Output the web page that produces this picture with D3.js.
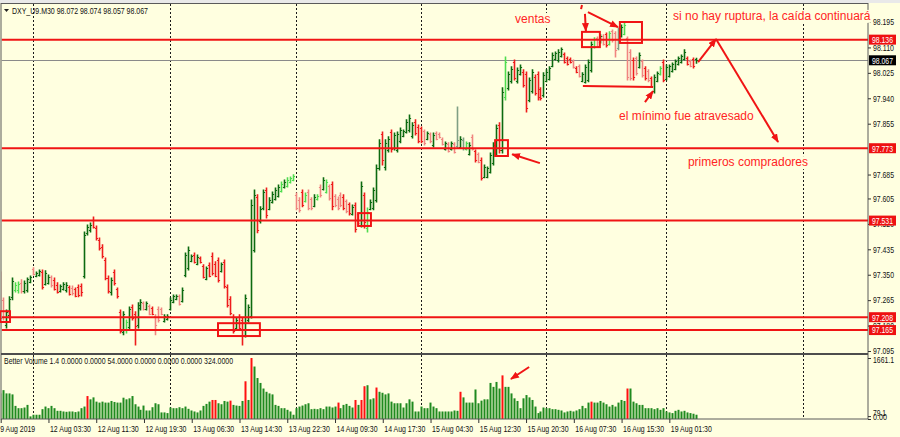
<!DOCTYPE html>
<html><head><meta charset="utf-8">
<script src="https://cdn.jsdelivr.net/npm/d3@7"></script>
<style>body{margin:0;background:#ffffe0;}svg{display:block}</style>
</head><body><svg id="c" width="900" height="437"></svg>
<script>
// ---------------- DATA ----------------
const symbolTitle = "DXY_U9.M30  98.072 98.074 98.057 98.067";
const volumeTitle = "Better Volume 1.4 0.0000 0.0000 54.0000 0.0000 0.0000 0.0000 324.0000";
// [open, high, low, close] per M30 bar
const bars = [
[97.326,97.359,97.172,97.205],[97.266,97.272,97.199,97.209],[97.182,97.232,97.172,97.226],[97.216,97.276,97.205,97.269],[97.276,97.339,97.266,97.329],
[97.299,97.323,97.292,97.316],[97.299,97.326,97.289,97.319],[97.323,97.333,97.289,97.296],[97.296,97.329,97.289,97.323],[97.299,97.339,97.292,97.336],
[97.326,97.346,97.323,97.343],[97.369,97.373,97.349,97.353],[97.346,97.359,97.343,97.356],[97.349,97.366,97.346,97.363],[97.359,97.366,97.302,97.309],
[97.319,97.363,97.316,97.356],[97.323,97.349,97.319,97.343],[97.343,97.346,97.309,97.316],[97.333,97.339,97.299,97.302],[97.316,97.323,97.289,97.292],
[97.296,97.316,97.292,97.312],[97.302,97.323,97.299,97.319],[97.299,97.323,97.292,97.316],[97.309,97.312,97.282,97.286],[97.306,97.312,97.282,97.289],
[97.302,97.306,97.276,97.279],[97.309,97.316,97.276,97.282],[97.312,97.319,97.279,97.292],[97.346,97.493,97.339,97.483],[97.490,97.516,97.483,97.510],
[97.500,97.523,97.493,97.516],[97.533,97.543,97.506,97.510],[97.506,97.513,97.466,97.473],[97.466,97.473,97.433,97.439],[97.443,97.450,97.406,97.413],
[97.399,97.406,97.333,97.339],[97.339,97.346,97.289,97.296],[97.292,97.339,97.282,97.333],[97.359,97.366,97.316,97.323],[97.302,97.306,97.272,97.279],
[97.226,97.232,97.155,97.162],[97.159,97.226,97.149,97.219],[97.165,97.199,97.155,97.192],[97.175,97.242,97.165,97.236],[97.242,97.249,97.199,97.205],
[97.219,97.226,97.115,97.179],[97.182,97.256,97.172,97.249],[97.239,97.266,97.232,97.259],[97.256,97.259,97.232,97.236],[97.236,97.259,97.232,97.256],
[97.246,97.249,97.216,97.219],[97.239,97.242,97.216,97.219],[97.212,97.216,97.149,97.182],[97.236,97.242,97.192,97.199],[97.236,97.239,97.216,97.219],
[97.195,97.216,97.192,97.212],[97.202,97.216,97.199,97.212],[97.236,97.272,97.232,97.266],[97.259,97.282,97.256,97.279],[97.269,97.282,97.266,97.279],
[97.279,97.282,97.249,97.252],[97.262,97.306,97.259,97.299],[97.349,97.423,97.343,97.416],[97.373,97.443,97.366,97.433],[97.396,97.416,97.393,97.413],
[97.416,97.423,97.389,97.393],[97.386,97.416,97.383,97.409],[97.406,97.409,97.389,97.393],[97.379,97.383,97.339,97.343],[97.336,97.376,97.333,97.373],
[97.383,97.389,97.343,97.346],[97.413,97.423,97.349,97.356],[97.386,97.393,97.343,97.346],[97.399,97.406,97.326,97.333],[97.363,97.389,97.359,97.386],
[97.393,97.399,97.306,97.312],[97.309,97.316,97.242,97.249],[97.269,97.276,97.216,97.222],[97.209,97.216,97.155,97.162],[97.172,97.205,97.165,97.199],
[97.209,97.216,97.165,97.172],[97.199,97.205,97.115,97.165],[97.165,97.282,97.142,97.272],[97.199,97.249,97.192,97.242],[97.212,97.600,97.205,97.583],
[97.433,97.633,97.426,97.617],[97.610,97.617,97.490,97.500],[97.530,97.577,97.523,97.570],[97.573,97.633,97.567,97.627],[97.633,97.640,97.540,97.550],
[97.570,97.607,97.567,97.600],[97.593,97.627,97.590,97.620],[97.603,97.640,97.600,97.633],[97.613,97.650,97.610,97.643],[97.630,97.660,97.627,97.653],
[97.643,97.667,97.640,97.660],[97.647,97.674,97.643,97.667],[97.660,97.677,97.657,97.674],[97.667,97.684,97.664,97.680],[97.617,97.623,97.567,97.573],
[97.600,97.607,97.560,97.567],[97.627,97.633,97.577,97.583],[97.597,97.623,97.593,97.617],[97.627,97.633,97.567,97.573],[97.603,97.607,97.567,97.573],
[97.580,97.617,97.577,97.610],[97.603,97.617,97.600,97.613],[97.643,97.650,97.610,97.617],[97.637,97.674,97.633,97.667],[97.627,97.667,97.623,97.660],
[97.647,97.650,97.600,97.607],[97.653,97.660,97.567,97.580],[97.613,97.617,97.577,97.583],[97.603,97.610,97.567,97.573],[97.617,97.623,97.577,97.583],
[97.610,97.617,97.567,97.573],[97.597,97.600,97.557,97.563],[97.587,97.590,97.550,97.557],[97.553,97.583,97.550,97.577],[97.583,97.590,97.493,97.503],
[97.553,97.557,97.516,97.523],[97.516,97.660,97.510,97.647],[97.617,97.623,97.506,97.526],[97.506,97.573,97.493,97.560],[97.570,97.600,97.567,97.593],
[97.573,97.640,97.567,97.633],[97.600,97.717,97.593,97.707],[97.707,97.801,97.700,97.791],[97.821,97.827,97.717,97.734],[97.710,97.801,97.700,97.791],
[97.767,97.811,97.760,97.804],[97.827,97.834,97.760,97.771],[97.774,97.824,97.767,97.817],[97.767,97.827,97.760,97.821],[97.797,97.841,97.791,97.834],
[97.814,97.834,97.811,97.831],[97.827,97.868,97.824,97.861],[97.834,97.884,97.827,97.874],[97.814,97.858,97.807,97.851],[97.861,97.868,97.817,97.824],
[97.844,97.851,97.791,97.797],[97.841,97.844,97.791,97.797],[97.831,97.834,97.784,97.791],[97.804,97.827,97.801,97.824],[97.821,97.824,97.791,97.797],
[97.784,97.824,97.777,97.817],[97.824,97.827,97.801,97.804],[97.821,97.824,97.807,97.811],[97.804,97.807,97.784,97.787],[97.771,97.794,97.767,97.791],
[97.787,97.791,97.760,97.764],[97.771,97.794,97.767,97.791],[97.787,97.791,97.757,97.760],[97.781,97.911,97.774,97.801],[97.777,97.811,97.774,97.804],
[97.801,97.807,97.767,97.774],[97.771,97.794,97.767,97.791],[97.754,97.791,97.750,97.784],[97.811,97.817,97.767,97.771],[97.764,97.767,97.727,97.734],
[97.754,97.757,97.724,97.727],[97.734,97.740,97.667,97.674],[97.677,97.717,97.674,97.710],[97.677,97.710,97.674,97.707],[97.694,97.757,97.690,97.750],
[97.724,97.791,97.717,97.784],[97.757,97.851,97.750,97.841],[97.851,97.858,97.757,97.767],[97.767,97.975,97.757,97.961],[97.944,98.078,97.934,98.061],
[97.975,98.028,97.968,98.021],[97.998,98.045,97.991,98.038],[98.061,98.068,98.001,98.008],[97.998,98.041,97.991,98.035],[98.021,98.051,98.018,98.045],
[98.028,98.035,97.978,97.985],[98.021,98.028,97.894,97.908],[97.934,98.008,97.928,98.001],[97.965,98.035,97.958,98.028],[98.011,98.018,97.951,97.958],
[98.021,98.028,97.934,97.944],[97.971,97.975,97.934,97.941],[97.951,98.025,97.944,98.018],[97.998,98.035,97.995,98.028],[98.005,98.045,98.001,98.041],
[98.048,98.091,98.045,98.085],[98.071,98.095,98.068,98.091],[98.068,98.102,98.061,98.095],[98.081,98.108,98.078,98.105],[98.088,98.091,98.058,98.061],
[98.075,98.078,98.051,98.055],[98.071,98.075,98.058,98.061],[98.065,98.068,98.041,98.045],[98.041,98.045,98.025,98.028],[98.048,98.051,98.011,98.015],
[97.998,98.025,97.995,98.021],[97.995,98.051,97.991,98.045],[98.001,98.068,97.995,98.061],[98.035,98.128,98.028,98.121],[98.111,98.142,98.108,98.138],
[98.142,98.145,98.111,98.115],[98.128,98.152,98.125,98.148],[98.148,98.152,98.118,98.121],[98.155,98.158,98.111,98.118],[98.121,98.162,98.118,98.158],
[98.165,98.168,98.128,98.135],[98.158,98.162,98.078,98.102],[98.108,98.175,98.102,98.168],[98.148,98.185,98.145,98.178],[98.155,98.192,98.152,98.185],
[98.142,98.145,98.001,98.011],[98.095,98.102,98.001,98.008],[98.068,98.075,98.001,98.011],[98.075,98.078,98.018,98.025],[98.045,98.091,98.041,98.085],
[98.065,98.068,98.011,98.018],[98.041,98.045,98.001,98.008],[98.031,98.035,97.995,98.001],[98.008,98.011,97.978,97.981],[97.965,98.018,97.958,98.011],
[97.998,98.028,97.995,98.025],[98.021,98.045,98.018,98.041],[98.061,98.068,97.995,98.001],[98.005,98.051,98.001,98.045],[98.015,98.051,98.011,98.048],
[98.031,98.058,98.028,98.055],[98.038,98.068,98.035,98.065],[98.055,98.078,98.051,98.075],[98.061,98.085,98.058,98.081],[98.071,98.102,98.068,98.095],
[98.075,98.078,98.051,98.055],[98.065,98.068,98.045,98.048],[98.071,98.075,98.041,98.048],[98.072,98.074,98.057,98.067]
];
// Better Volume bar class per bar: g=normal up, r=climax/down, p=weak down, l=low-volume up, y=churn
const barClass = ("rpgggllpgg"+"gpggrggprr"+"gggrprrrgg"+"grrrrrrgrr"+"rglgrrggpg"+"prpppggggg"+"pggggrgrrg"+"rrrrgrrrrg"+
  "rrggggrggr"+"gggglglllp"+"prlppglpgl"+"prppprprgr"+"pgrlggggrg"+"grgggggggr"+"rrpgpgpppg"+"pgpygylgpr"+"prgggggrgl"+
  "ggrggrrggr"+"rrgggggggr"+"rrprpggggl"+"pgprlppygl"+"pprpgprprg"+"glrggggggg"+"rprg").split("");
const volumes = [
697,786,697,697,670,357,295,295,313,384, 71,116,116,116,268,339,295,357,295,223,
223,205,196,205,205,188,205,295,339,625, 536,589,473,447,473,447,447,491,464,447,
447,580,536,563,625,402,339,250,366,232, 232,321,429,402,179,179,161,313,295,295,
321,295,339,277,232,205,179,232,357,411, 473,518,518,429,402,491,473,500,384,366,
357,491,1027,518,1661,1429,1116,982,830,741, 697,670,384,357,295,295,250,205,116,295,
339,366,402,429,268,277,268,295,268,339, 339,313,339,447,295,384,411,357,313,518,
384,518,893,920,536,563,857,741,714,670, 697,473,429,429,429,313,429,536,473,205,
205,339,295,295,447,339,295,205,205,205, 205,205,232,223,741,589,447,447,447,804,
429,500,536,536,982,875,1009,830,1188,875, 875,697,563,491,295,563,652,589,518,339,
161,205,313,295,295,268,268,250,232,179, 205,223,205,232,268,357,295,447,473,447,
447,491,447,402,339,384,339,447,518,491, 830,830,473,429,384,384,295,295,295,268,
295,250,295,205,179,161,223,250,205,223, 179,161,143,116
];
const climaxVolumeIdx = [29,71,72,77,82,84,113,119,121,122,126,154,168,198,210];
const timeLabels = ["9 Aug 2019","12 Aug 03:30","12 Aug 11:30","12 Aug 19:30","13 Aug 06:30","13 Aug 14:30","13 Aug 22:30",
  "14 Aug 09:30","14 Aug 17:30","15 Aug 04:30","15 Aug 12:30","15 Aug 20:30","16 Aug 07:30","16 Aug 15:30","19 Aug 01:30"];
const timeLabelIdx = [0,16,32,48,64,80,96,112,128,144,160,176,192,208,224];
const daySeparatorIdx = [11,57,99,141,183,223,269];
const priceTicks = [98.195,98.110,98.025,97.940,97.855,97.685,97.605,97.520,97.435,97.350,97.265,97.180,97.095];
const levelLines = [98.136,97.773,97.531,97.208,97.165];
const lastPrice = 98.067;
const volumeTicks = [1661.1,79.1,0];
const volumeTickText = ["1661.1","79.1","0.00"];
// annotations: anchored in (bar index, price)
const noteTexts = [
  {text:"ventas", i:172.5, p:98.192},
  {text:"si no hay ruptura, la caída continuará", i:225.4, p:98.202},
  {text:"el mínimo fue atravesado", i:207.3, p:97.867},
  {text:"primeros compradores", i:230.4, p:97.713}
];
const noteBoxes = [[-0.07,97.228,3.28,97.192],[72.97,97.188,87.0,97.145],[119.9,97.556,124.2,97.513],
  [165.8,97.800,170.1,97.747],[194.9,98.162,200.9,98.111],[207.6,98.195,215.0,98.125]];
const noteLines = [[195.2,97.981,218.7,97.978],[194.9,98.252,194.6,98.238]];
const noteArrows = [[195.9,98.222,196.2,98.165],[196.9,98.228,206.97,98.178],[180.8,97.723,171.5,97.753],
  [216.0,97.927,218.7,97.964],[233.8,98.061,239.8,98.138],[239.8,98.138,260.6,97.794]];
const volumeArrow = [177.2,1416,171.1,1089];

// ---------------- LAYOUT ----------------
const BG="#ffffe0", RED="#f01414", TXT="#ff2424";
const plotL=1.5, plotR=868, mainT=4, mainB=353, volB=419;
const smallFont = "'Liberation Sans Narrow','Liberation Sans',Arial,sans-serif";
const svg = d3.select("#c");
const x = d3.scaleLinear().domain([0,290]).range([0.2, 0.2+2.985*290]);
const y = d3.scaleLinear().domain([97.095,98.195]).range([351,22]);
const yv = d3.scaleLinear().domain([0,1661.1]).range([volB,358]);
const px = i => Math.round(x(i))+0.5;

svg.append("rect").attr("width",900).attr("height",437).attr("fill",BG);
svg.append("rect").attr("width",900).attr("height",3).attr("fill","#e9e9e9");
const defs = svg.append("defs");
defs.append("clipPath").attr("id","mainClip").append("rect").attr("x",plotL).attr("y",mainT).attr("width",plotR-plotL).attr("height",mainB-mainT);
defs.append("clipPath").attr("id","volClip").append("rect").attr("x",plotL).attr("y",355).attr("width",plotR-plotL).attr("height",volB-355);
defs.append("marker").attr("id","ah").attr("viewBox","0 0 10 8").attr("refX",9).attr("refY",4)
  .attr("markerUnits","userSpaceOnUse").attr("markerWidth",9).attr("markerHeight",7).attr("orient","auto")
  .append("path").attr("d","M0,0L10,4L0,8z").attr("fill",RED);

// day separators
const sepG = svg.append("g");
daySeparatorIdx.forEach(i=>{
  [[mainT,mainB],[355,volB]].forEach(([a,b])=>{
    sepG.append("line").attr("x1",px(i)).attr("x2",px(i)).attr("y1",a).attr("y2",b)
      .attr("stroke","#1a1a1a").attr("stroke-width",1).attr("stroke-dasharray","2,2");
  });
});

// current price line
const main = svg.append("g").attr("clip-path","url(#mainClip)");
main.append("line").attr("x1",plotL).attr("x2",plotR).attr("y1",Math.round(y(lastPrice))+0.5).attr("y2",Math.round(y(lastPrice))+0.5)
  .attr("stroke","#8a8a8a").attr("stroke-width",1);

// price bars
const barColor = {g:"#0c6a10", r:"#ee1c1c", p:"#f08580", l:"#4fdc4f", y:"#7f9f84"};
const bg = main.selectAll("g.bar").data(bars).join("g").attr("class","bar")
  .attr("stroke",(d,i)=>barColor[barClass[i]]);
bg.append("line").attr("x1",(d,i)=>px(i)).attr("x2",(d,i)=>px(i)).attr("y1",d=>y(d[1])-0.5).attr("y2",d=>y(d[2])+0.5).attr("stroke-width",1.6);
bg.append("line").attr("x1",(d,i)=>px(i)-1.6).attr("x2",(d,i)=>px(i)).attr("y1",d=>Math.round(y(d[0]))+0.5).attr("y2",d=>Math.round(y(d[0]))+0.5).attr("stroke-width",1);
bg.append("line").attr("x1",(d,i)=>px(i)).attr("x2",(d,i)=>px(i)+1.6).attr("y1",d=>Math.round(y(d[3]))+0.5).attr("y2",d=>Math.round(y(d[3]))+0.5).attr("stroke-width",1);

// level lines
main.selectAll("line.lvl").data(levelLines).join("line").attr("class","lvl")
  .attr("x1",plotL).attr("x2",plotR).attr("y1",d=>y(d)).attr("y2",d=>y(d)).attr("stroke",RED).attr("stroke-width",2);

// volume bars
const climax = new Set(climaxVolumeIdx);
svg.append("g").attr("clip-path","url(#volClip)").selectAll("rect").data(volumes).join("rect")
  .attr("x",(d,i)=>Math.round(x(i))-0.5).attr("width",2)
  .attr("y",d=>yv(d)).attr("height",d=>volB-yv(d))
  .attr("fill",(d,i)=>climax.has(i)?"#ff1010":"#1f8a1f");

// frames
svg.append("rect").attr("x",1).attr("y",3.5).attr("width",plotR-1).attr("height",volB-3.5).attr("fill","none").attr("stroke","#5a5a5a").attr("stroke-width",1);
svg.append("rect").attr("x",1).attr("y",353).attr("width",plotR-1).attr("height",2).attr("fill","#4d4d4d");

// y axis (price)
const ya = svg.append("g").attr("transform",`translate(${plotR},0)`)
  .call(d3.axisRight(y).tickValues(priceTicks).tickFormat(d3.format(".3f")).tickSize(3).tickPadding(2));
ya.select(".domain").remove();
ya.selectAll("text").attr("font-family",smallFont).attr("font-size",8.5).attr("fill","#111")
  .attr("textLength",21).attr("lengthAdjust","spacingAndGlyphs");
ya.selectAll("line").attr("stroke","#333");

// level labels
const lab = svg.append("g");
const labelOf = (v,fill)=>{
  lab.append("rect").attr("x",869).attr("y",y(v)-5).attr("width",27).attr("height",10).attr("fill",fill);
  lab.append("text").attr("x",872).attr("y",y(v)+3.3).attr("font-family",smallFont)
    .attr("font-size",8.5).attr("fill","#fff").attr("textLength",21).attr("lengthAdjust","spacingAndGlyphs").text(d3.format(".3f")(v));
};
levelLines.forEach(v=>labelOf(v,"#ee1111"));
labelOf(lastPrice,"#000");

// volume axis
const va = svg.append("g").attr("transform",`translate(${plotR},0)`)
  .call(d3.axisRight(yv).tickValues(volumeTicks).tickFormat((d,i)=>volumeTickText[i]).tickSize(3).tickPadding(2));
va.select(".domain").remove();
va.selectAll("text").attr("font-family",smallFont).attr("font-size",8.5).attr("fill","#111")
  .attr("dy",(d,i)=>i===0?"0.55em":(i===1?"-0.05em":"0.1em"))
  .attr("textLength",(d,i)=>[21,13,14][i]).attr("lengthAdjust","spacingAndGlyphs");
va.selectAll("line").attr("stroke","#333");

// x axis
const xa = svg.append("g").attr("transform",`translate(0,${volB})`)
  .call(d3.axisBottom(x).tickValues(timeLabelIdx).tickFormat((d,i)=>timeLabels[i]).tickSize(4).tickPadding(3));
xa.select(".domain").remove();
xa.selectAll("line").attr("stroke","#333").attr("transform","translate(0.5,0)");
xa.selectAll("text").attr("text-anchor","start").attr("x",(d,i)=>i===0?-0.5:1.5).attr("font-family",smallFont).attr("font-size",8.5).attr("fill","#111")
  .attr("textLength",(d,i)=>i===0?35:41).attr("lengthAdjust","spacingAndGlyphs");

// titles
svg.append("path").attr("d","M4,9L9,9L6.5,12z").attr("fill","#222");
svg.append("text").attr("x",12).attr("y",13.5).attr("font-family",smallFont).attr("font-size",8.5).attr("fill","#111")
  .attr("textLength",136).attr("lengthAdjust","spacingAndGlyphs").text(symbolTitle);
svg.append("text").attr("x",4).attr("y",364).attr("font-family",smallFont).attr("font-size",8.5).attr("fill","#111")
  .attr("textLength",229).attr("lengthAdjust","spacingAndGlyphs").text(volumeTitle);

// annotations
const ann = svg.append("g");
noteTexts.forEach(n=>{
  const g = ann.append("g");
  const t = g.append("text").attr("x",x(n.i)).attr("y",y(n.p)).attr("font-family","'Liberation Sans',Arial,sans-serif")
    .attr("font-size",12).attr("fill",TXT).text(n.text);
  const b = t.node().getBBox();
  g.insert("rect","text").attr("x",b.x).attr("y",b.y+1).attr("width",b.width).attr("height",b.height-1).attr("fill",BG);
});
noteBoxes.forEach(b=>{
  ann.append("rect").attr("x",x(b[0])).attr("y",y(b[1])).attr("width",x(b[2])-x(b[0])).attr("height",y(b[3])-y(b[1]))
    .attr("fill","none").attr("stroke",RED).attr("stroke-width",2);
});
noteLines.forEach(l=>{
  ann.append("line").attr("x1",x(l[0])).attr("y1",y(l[1])).attr("x2",x(l[2])).attr("y2",y(l[3])).attr("stroke",RED).attr("stroke-width",2);
});
noteArrows.forEach(l=>{
  ann.append("line").attr("x1",x(l[0])).attr("y1",y(l[1])).attr("x2",x(l[2])).attr("y2",y(l[3]))
    .attr("stroke",RED).attr("stroke-width",2).attr("marker-end","url(#ah)");
});
ann.append("line").attr("x1",x(volumeArrow[0])).attr("y1",yv(volumeArrow[1])).attr("x2",x(volumeArrow[2])).attr("y2",yv(volumeArrow[3]))
  .attr("stroke",RED).attr("stroke-width",2).attr("marker-end","url(#ah)");
</script></body></html>
